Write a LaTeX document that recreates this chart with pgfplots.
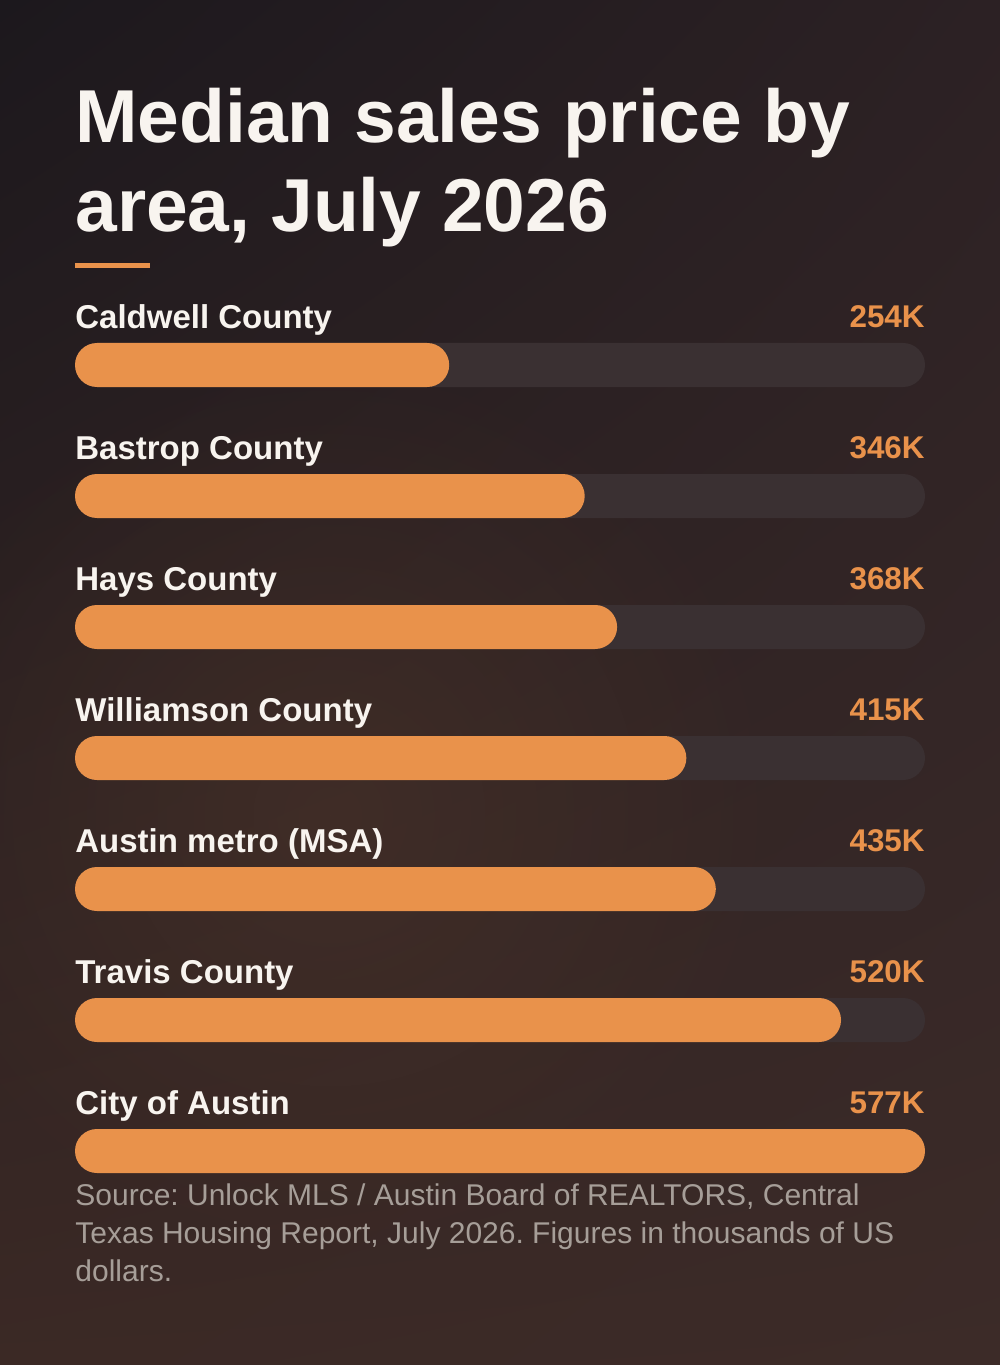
\documentclass[border=0pt]{standalone}
\usepackage{pgfplots}
\usepackage{pgfplotstable}
\pgfplotsset{compat=1.18}
\usepackage{fontspec}
\setmainfont{Liberation Sans}
\usetikzlibrary{fadings,shadings}
\frenchspacing

\definecolor{barorange}{HTML}{E9924B}
\definecolor{track}{HTML}{3A3032}
\definecolor{titlecol}{HTML}{F8F4EF}
\definecolor{footcol}{HTML}{A69E98}
\definecolor{bgTL}{HTML}{1C181D}
\definecolor{bgTR}{HTML}{2C2124}
\definecolor{bgBL}{HTML}{3B2925}
\definecolor{bgBR}{HTML}{3C2B28}
\definecolor{glow}{HTML}{4A3329}

\tikzfading[name=softglow, inner color=transparent!0, outer color=transparent!100]

% median sales price, thousands of USD
\pgfplotstableread[col sep=comma]{
idx,name,value
0,Caldwell County,254
1,Bastrop County,346
2,Hays County,368
3,Williamson County,415
4,Austin metro (MSA),435
5,Travis County,520
6,City of Austin,577
}\pricedata

\begin{document}
\begin{tikzpicture}
    % background, 1px = 0.5pt
    \shade[upper left=bgTL, upper right=bgTR, lower left=bgBL, lower right=bgBR]
        (0,0) rectangle (500pt,682.5pt);
    \fill[glow, path fading=softglow, opacity=0.6] (165pt,275pt) circle (230pt);

    % title
    \node[anchor=base west, inner sep=0pt, text=titlecol,
          font=\fontsize{37.5pt}{44.5pt}\selectfont\bfseries] at (37.5pt,611pt) {Median sales price by};
    \node[anchor=base west, inner sep=0pt, text=titlecol,
          font=\fontsize{37.5pt}{44.5pt}\selectfont\bfseries] at (37.5pt,566.5pt) {area, July 2026};
    \fill[barorange] (37.5pt,548.5pt) rectangle (75pt,551pt);

    \begin{axis}[
        at={(37.5pt,532.75pt)}, anchor=north west,
        width=425pt, height=458.5pt,
        scale only axis,
        hide axis,
        clip=false,
        xmin=0, xmax=577,
        ymin=-0.5, ymax=6.5,
        y dir=reverse,
        xbar, bar width=22pt, bar shift=0pt,
    ]
        % grey tracks
        \addplot[fill=track, draw=none, rounded corners=11pt]
            table[x expr=577, y=idx] {\pricedata};
        % orange bars
        \addplot[fill=barorange, draw=none, rounded corners=11pt]
            table[x=value, y=idx] {\pricedata};
        % area names
        \addplot[xbar=false, draw=none, mark=none,
            point meta=explicit symbolic,
            nodes near coords,
            nodes near coords style={anchor=base west, inner sep=0pt, text=titlecol,
                font=\fontsize{16.5pt}{19pt}\selectfont\bfseries}]
            table[x expr=0, y expr=\thisrow{idx}-0.275, meta=name] {\pricedata};
        % values
        \addplot[xbar=false, draw=none, mark=none,
            point meta=explicit symbolic,
            nodes near coords={\pgfplotspointmeta K},
            nodes near coords style={anchor=base east, inner sep=0pt, text=barorange,
                font=\fontsize{15.7pt}{19pt}\selectfont\bfseries}]
            table[x expr=577, y expr=\thisrow{idx}-0.29, meta=value] {\pricedata};
    \end{axis}

    % source note (base anchor = last line)
    \node[anchor=base west, inner sep=0pt, text=footcol, align=left,
          font=\fontsize{15pt}{19pt}\selectfont] at (37.5pt,41.5pt)
        {Source: Unlock MLS / Austin Board of REALTORS, Central\\Texas Housing Report, July 2026. Figures in thousands of US\\dollars.};

    \pgfresetboundingbox
    \useasboundingbox (0,0) rectangle (500pt,682.5pt);
\end{tikzpicture}
\end{document}
